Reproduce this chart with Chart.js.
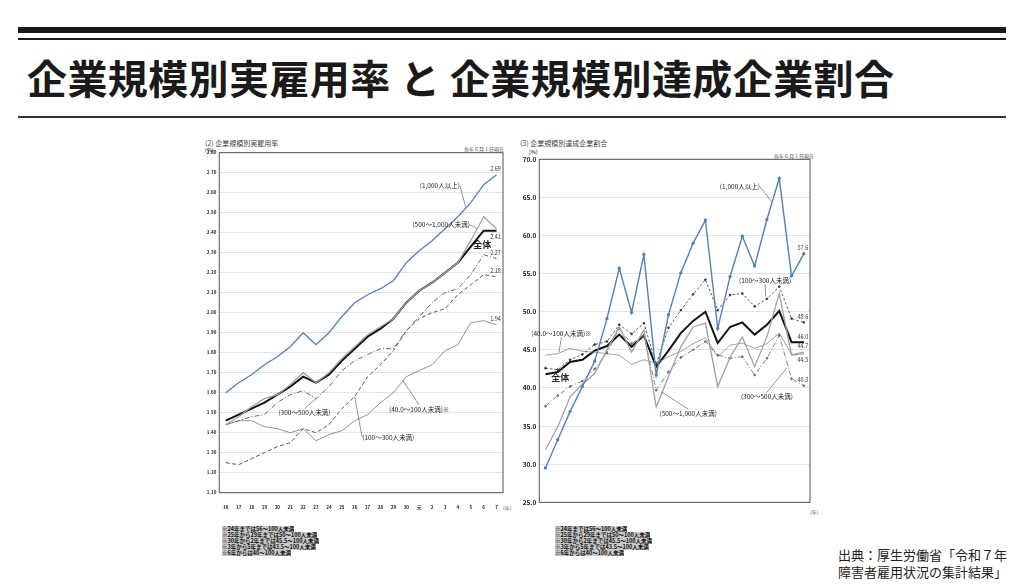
<!DOCTYPE html>
<html lang="ja">
<head>
    <meta charset="UTF-8">
    <title>企業規模別実雇用率 と 企業規模別達成企業割合</title>
    <script src="https://cdn.jsdelivr.net/npm/chart.js"></script>
    <style>
        body {
            margin: 0;
            width: 1024px;
            height: 584px;
            background: #fff;
            position: relative;
            overflow: hidden;
            font-family: "Noto Sans CJK JP", "Noto Sans", sans-serif;
            color: #222;
        }
        .bar-top { position: absolute; left: 18px; width: 988px; top: 27px; height: 6px; background: #1a1a1a; }
        .bar-thin { position: absolute; left: 18px; width: 988px; top: 38px; height: 2px; background: #1a1a1a; }
        .bar-under { position: absolute; left: 18px; width: 988px; top: 116px; height: 2px; background: #333; }
        h1 {
            position: absolute;
            left: 27px;
            top: 50px;
            margin: 0;
            font-size: 40px;
            font-weight: 700;
            line-height: 54px;
            letter-spacing: 0.4px;
            white-space: nowrap;
            color: #1a1a1a;
        }
        .box { position: absolute; }
        .small { position: absolute; font-size: 7px; color: #444; white-space: nowrap; line-height: 8px; }
        .tiny { position: absolute; font-size: 5px; color: #555; white-space: nowrap; line-height: 6px; }
        .notes { position: absolute; font-size: 5.5px; font-weight: 700; color: #111; }
        .notes div { width: fit-content; height: 6px; line-height: 6px; background: #c8c8c8; white-space: nowrap; overflow: hidden; }
        .source { position: absolute; left: 838px; top: 546px; font-size: 13px; line-height: 17px; color: #222; white-space: nowrap; }
    </style>
</head>
<body>
    <div class="bar-top"></div>
    <div class="bar-thin"></div>
    <h1>企業規模別実雇用率 と 企業規模別達成企業割合</h1>
    <div class="bar-under"></div>

    <div class="small" style="left:205px; top:139px;">(2) 企業規模別実雇用率</div>
    <div class="tiny" style="left:205px; top:147px; font-weight:700;">(%)</div>
    <div class="tiny" style="left:464px; top:146px;">各年６月１日現在</div>
    <div class="tiny" style="left:503px; top:505px;">(年)</div>
    <div class="box" style="left:195px; top:138px; width:315px; height:372px;"><canvas id="rateChart"></canvas></div>
    <div class="notes" style="left:222px; top:526px;">
        <div>※24年までは56～100人未満</div>
        <div>※25年から29年までは50～100人未満</div>
        <div>※30年から2年までは45.5～100人未満</div>
        <div>※3年から5年までは43.5～100人未満</div>
        <div>※6年からは40～100人未満</div>
    </div>

    <div class="small" style="left:520px; top:139px;">(3) 企業規模別達成企業割合</div>
    <div class="tiny" style="left:529px; top:149px; font-weight:700;">(%)</div>
    <div class="tiny" style="left:774px; top:153px;">各年６月１日現在</div>
    <div class="tiny" style="left:810px; top:509px;">(年)</div>
    <div class="box" style="left:515px; top:138px; width:310px; height:376px;"><canvas id="achieveChart"></canvas></div>
    <div class="notes" style="left:555px; top:526px;">
        <div>※24年までは56～100人未満</div>
        <div>※25年から29年までは50～100人未満</div>
        <div>※30年から2年までは45.5～100人未満</div>
        <div>※3年から5年までは43.5～100人未満</div>
        <div>※6年からは40～100人未満</div>
    </div>

    <div class="source">出典：厚生労働省「令和７年<br>障害者雇用状況の集計結果」</div>

    <script>
        // 年（平成16年～令和7年）
        const years = ['16','17','18','19','20','21','22','23','24','25','26','27','28','29','30','元','2','3','4','5','6','7'];

        // (2) 企業規模別実雇用率 (%)
        const rateAll   = [1.46,1.49,1.52,1.55,1.59,1.63,1.68,1.65,1.69,1.76,1.82,1.88,1.92,1.97,2.05,2.11,2.15,2.20,2.25,2.33,2.41,2.41];
        const rate1000  = [1.60,1.65,1.69,1.74,1.78,1.83,1.90,1.84,1.90,1.98,2.05,2.09,2.12,2.16,2.25,2.31,2.36,2.42,2.48,2.55,2.64,2.69];
        const rate500   = [1.44,1.48,1.53,1.57,1.59,1.64,1.70,1.65,1.70,1.77,1.83,1.89,1.93,1.97,2.05,2.11,2.15,2.20,2.25,2.36,2.48,2.42];
        const rate300   = [1.44,1.46,1.48,1.49,1.55,1.59,1.61,1.57,1.63,1.71,1.76,1.79,1.82,1.82,1.91,1.98,2.05,2.10,2.12,2.19,2.29,2.27];
        const rate100   = [1.25,1.24,1.27,1.30,1.33,1.35,1.42,1.40,1.44,1.52,1.58,1.68,1.74,1.81,1.91,1.97,2.00,2.02,2.09,2.14,2.19,2.18];
        const rate40    = [1.44,1.46,1.46,1.43,1.42,1.40,1.42,1.36,1.39,1.41,1.46,1.49,1.55,1.60,1.68,1.71,1.74,1.81,1.84,1.95,1.96,1.94];

        // (3) 企業規模別達成企業割合 (%)
        const achAll  = [41.8,42.1,43.4,43.7,44.9,45.5,47.0,45.4,46.9,42.8,44.9,47.2,48.8,50.0,45.9,48.0,48.6,47.0,48.3,50.1,46.0,46.0];
        const ach1000 = [29.5,33.2,36.9,40.2,43.5,49.1,55.7,49.9,57.5,41.7,49.6,55.1,59.0,62.0,47.8,54.6,59.9,56.0,62.1,67.5,54.7,57.6];
        const ach500  = [31.9,34.9,38.8,40.5,41.9,45.0,48.0,44.7,47.6,37.5,41.5,45.4,48.0,48.5,40.2,44.0,46.7,42.8,46.7,52.4,44.3,44.5];
        const ach300  = [37.6,39.0,40.2,40.9,42.5,44.6,47.8,45.8,46.9,39.7,42.1,44.0,45.0,46.1,44.3,43.9,44.1,41.7,43.9,46.9,41.2,40.3];
        const ach100  = [42.6,42.4,43.7,44.4,45.7,46.1,48.3,47.1,48.5,43.1,47.9,50.2,52.3,54.2,50.2,52.2,52.4,50.7,51.7,53.3,49.1,48.6];
        const ach40   = [44.3,44.5,45.2,44.8,44.7,44.5,44.3,43.1,43.7,43.2,44.1,44.8,45.8,46.6,44.1,45.6,45.9,45.2,45.8,47.2,44.4,44.7];

        // 軸目盛
        const rateTicks = { min: 1.10, max: 2.80, step: 0.10 };
        const achTicks = { min: 25, max: 70, step: 5 };

        // 系列名の注記 (x = 年の位置, y = 値, to = 引出線の先)
        const rateNotes = [
            { text: '(1,000人以上)', x: 16.6, y: 2.635, to: [18.6, 2.53] },
            { text: '(500～1,000人未満)', x: 16.7, y: 2.44, to: [19.5, 2.42] },
            { text: '全体', x: 19.9, y: 2.34, bold: true },
            { text: '(300～500人未満)', x: 6.1, y: 1.50, to: [7.0, 1.57] },
            { text: '(100～300人未満)', x: 12.6, y: 1.376, to: [10.0, 1.58] },
            { text: '(40.0～100人未満)※', x: 15.0, y: 1.518, to: [13.75, 1.66] }
        ];
        const achNotes = [
            { text: '(1,000人以上)', x: 15.8, y: 66.4, to: [18.4, 64.4] },
            { text: '(100～300人未満)', x: 17.85, y: 54.1, to: [17.9, 52.0] },
            { text: '(40.0～100人未満)※', x: 1.3, y: 47.2, to: [1.1, 44.7] },
            { text: '全体', x: 1.2, y: 41.3, bold: true },
            { text: '(500～1,000人未満)', x: 11.6, y: 36.7, to: [9.4, 39.5] },
            { text: '(300～500人未満)', x: 18.0, y: 38.9, to: [19.6, 42.6] }
        ];

        const FONT = '"Noto Sans CJK JP", "Noto Sans", sans-serif';
        const BLUE = '#4f81bd';

        // 枠線・注記・最新値を描くプラグイン
        const decorPlugin = {
            id: 'decor',
            beforeDatasetsDraw(chart) {
                const a = chart.chartArea;
                const ctx = chart.ctx;
                ctx.save();
                ctx.strokeStyle = '#555';
                ctx.lineWidth = 1;
                ctx.strokeRect(a.left, a.top, a.right - a.left, a.bottom - a.top);
                ctx.restore();
            },
            afterDatasetsDraw(chart, args, opts) {
                const ctx = chart.ctx;
                const xs = chart.scales.x, ys = chart.scales.y;
                ctx.save();
                // 注記
                opts.notes.forEach(n => {
                    const px = xs.getPixelForValue(n.x), py = ys.getPixelForValue(n.y);
                    ctx.font = (n.bold ? '700 9px ' : '6.5px ') + FONT;
                    ctx.fillStyle = '#222';
                    ctx.textAlign = 'center';
                    ctx.textBaseline = 'middle';
                    ctx.fillText(n.text, px, py);
                    if (n.to) {
                        const tx = xs.getPixelForValue(n.to[0]), ty = ys.getPixelForValue(n.to[1]);
                        const w = ctx.measureText(n.text).width;
                        let sx = px, sy = py;
                        if (Math.abs(tx - px) > w / 2) {
                            sx = tx > px ? px + w / 2 : px - w / 2;
                        } else {
                            sy = ty > py ? py + 4 : py - 4;
                        }
                        ctx.strokeStyle = '#666';
                        ctx.lineWidth = 0.7;
                        ctx.beginPath();
                        ctx.moveTo(sx, sy);
                        ctx.lineTo(tx, ty);
                        ctx.stroke();
                    }
                });
                // 最新値
                ctx.font = '5.5px ' + FONT;
                ctx.fillStyle = '#333';
                ctx.textAlign = 'center';
                chart.data.datasets.forEach((ds, i) => {
                    if (ds.endLabel === undefined) return;
                    const last = ds.data.length - 1;
                    const pt = chart.getDatasetMeta(i).data[last];
                    const below = ds.endLabel > 0;
                    ctx.textBaseline = below ? 'top' : 'bottom';
                    ctx.fillText(ds.digits ? ds.data[last].toFixed(ds.digits) : ds.data[last].toFixed(2),
                        pt.x - 1, below ? pt.y + ds.endLabel : pt.y - 3);
                });
                ctx.restore();
            }
        };

        function yTickScale(t, digits, size) {
            return {
                min: t.min,
                max: t.max,
                afterFit(s) { s.width = 24.3; },
                afterBuildTicks(s) {
                    const ticks = [];
                    for (let v = t.min; v <= t.max + 1e-9; v += t.step) ticks.push({ value: Math.round(v * 100) / 100 });
                    s.ticks = ticks;
                },
                ticks: {
                    color: '#222',
                    padding: 3,
                    font: { size: size, weight: '700', family: FONT },
                    callback: v => Number(v).toFixed(digits)
                },
                grid: { color: '#dcdcdc', lineWidth: 0.8, drawTicks: false },
                border: { display: false }
            };
        }

        function xScale(h) {
            return {
                offset: true,
                afterFit(s) { s.height = h; },
                ticks: {
                    color: '#222',
                    padding: 4,
                    maxRotation: 0,
                    autoSkip: false,
                    font: { size: 4.5, weight: '700', family: FONT }
                },
                grid: { display: false },
                border: { display: false }
            };
        }

        // (2) 実雇用率
        new Chart(document.getElementById('rateChart'), {
            type: 'line',
            data: {
                labels: years,
                datasets: [
                    { label: '1,000人以上', data: rate1000, borderColor: BLUE, borderWidth: 1.3, endLabel: 0 },
                    { label: '500～1,000人未満', data: rate500, borderColor: '#a8a0a0', borderWidth: 1.3 },
                    { label: '300～500人未満', data: rate300, borderColor: '#555', borderWidth: 0.9, borderDash: [5, 2, 1, 2], endLabel: 0 },
                    { label: '100～300人未満', data: rate100, borderColor: '#444', borderWidth: 0.9, borderDash: [4, 2.5], endLabel: 0 },
                    { label: '40～100人未満', data: rate40, borderColor: '#777', borderWidth: 0.8, endLabel: 0 },
                    { label: '全体', data: rateAll, borderColor: '#111', borderWidth: 2, endLabel: 3 }
                ]
            },
            options: {
                responsive: true,
                maintainAspectRatio: false,
                animation: false,
                layout: { padding: { top: 14.7, right: 7, left: 0, bottom: 0 } },
                elements: { point: { radius: 0 }, line: { tension: 0 } },
                scales: { x: xScale(17.3), y: yTickScale(rateTicks, 2, 4.5) },
                plugins: {
                    legend: { display: false },
                    tooltip: { enabled: false },
                    decor: { notes: rateNotes }
                }
            },
            plugins: [decorPlugin]
        });

        // (3) 達成企業割合
        new Chart(document.getElementById('achieveChart'), {
            type: 'line',
            data: {
                labels: years,
                datasets: [
                    { label: '1,000人以上', data: ach1000, borderColor: BLUE, borderWidth: 1.4, pointRadius: 1, pointBackgroundColor: BLUE, endLabel: 0, digits: 1 },
                    { label: '500～1,000人未満', data: ach500, borderColor: '#a0a0a0', borderWidth: 1.3, endLabel: 3, digits: 1 },
                    { label: '300～500人未満', data: ach300, borderColor: '#666', borderWidth: 0.8, borderDash: [5, 2, 1, 2], pointRadius: 0.9, pointBackgroundColor: '#666', endLabel: 0, digits: 1 },
                    { label: '100～300人未満', data: ach100, borderColor: '#333', borderWidth: 0.8, borderDash: [2.5, 2], pointRadius: 0.9, pointBackgroundColor: '#333', endLabel: 0, digits: 1 },
                    { label: '40～100人未満', data: ach40, borderColor: '#8a8a8a', borderWidth: 0.8, endLabel: 0, digits: 1 },
                    { label: '全体', data: achAll, borderColor: '#111', borderWidth: 2, endLabel: 0, digits: 1 }
                ]
            },
            options: {
                responsive: true,
                maintainAspectRatio: false,
                animation: false,
                layout: { padding: { top: 21.3, right: 15, left: 0, bottom: 0 } },
                elements: { point: { radius: 0, borderWidth: 0 }, line: { tension: 0 } },
                scales: { x: xScale(11.7), y: yTickScale(achTicks, 1, 6.5) },
                plugins: {
                    legend: { display: false },
                    tooltip: { enabled: false },
                    decor: { notes: achNotes }
                }
            },
            plugins: [decorPlugin]
        });
    </script>
</body>
</html>
